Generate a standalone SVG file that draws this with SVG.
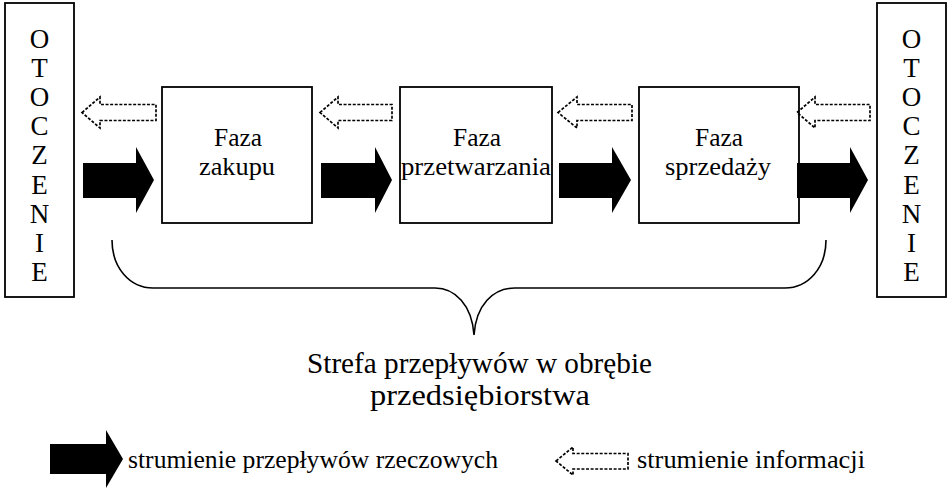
<svg xmlns="http://www.w3.org/2000/svg" width="952" height="493" viewBox="0 0 952 493">
<style>
.box{fill:#fff;stroke:#000;stroke-width:1.8}
text{font-family:'Liberation Serif','Times New Roman',serif;fill:#000}
.solid{fill:#000;stroke:none}
.dash{fill:none;stroke:#000;stroke-width:1.7;stroke-dasharray:3 1.6}
.brace{fill:none;stroke:#000;stroke-width:1.6}
.oto{font-size:27px;text-anchor:middle}
.f{font-size:25px}
.big{font-size:29px}
</style>
<rect width="952" height="493" fill="#fff"/>
<g id="otoczenie-left">
<rect class="box" x="5" y="3" width="69" height="294"/>
<text class="oto" x="39.5" y="48">O</text><text class="oto" x="39.5" y="77">T</text><text class="oto" x="39.5" y="106">O</text><text class="oto" x="39.5" y="135">C</text><text class="oto" x="39.5" y="164">Z</text><text class="oto" x="39.5" y="194">E</text><text class="oto" x="39.5" y="223">N</text><text class="oto" x="39.5" y="252">I</text><text class="oto" x="39.5" y="281">E</text>
</g>
<g id="otoczenie-right">
<rect class="box" x="877" y="3" width="69" height="294"/>
<text class="oto" x="911.5" y="48">O</text><text class="oto" x="911.5" y="77">T</text><text class="oto" x="911.5" y="106">O</text><text class="oto" x="911.5" y="135">C</text><text class="oto" x="911.5" y="164">Z</text><text class="oto" x="911.5" y="194">E</text><text class="oto" x="911.5" y="223">N</text><text class="oto" x="911.5" y="252">I</text><text class="oto" x="911.5" y="281">E</text>
</g>
<g id="faza-zakupu">
<rect class="box" x="162" y="87" width="150" height="136"/>
<text class="f" x="214" y="146" textLength="48" lengthAdjust="spacingAndGlyphs">Faza</text>
<text class="f" x="199" y="175" textLength="76" lengthAdjust="spacingAndGlyphs">zakupu</text>
</g>
<g id="faza-przetwarzania">
<rect class="box" x="400" y="87" width="152" height="136"/>
<text class="f" x="453" y="146" textLength="48" lengthAdjust="spacingAndGlyphs">Faza</text>
<text class="f" x="401" y="175" textLength="150" lengthAdjust="spacingAndGlyphs">przetwarzania</text>
</g>
<g id="faza-sprzedazy">
<rect class="box" x="639" y="87" width="160" height="136"/>
<text class="f" x="695" y="146" textLength="48" lengthAdjust="spacingAndGlyphs">Faza</text>
<text class="f" x="665" y="175" textLength="106" lengthAdjust="spacingAndGlyphs">sprzedaży</text>
</g>
<g id="connectors">
<path class="dash" d="M82,112.5 L100,97 L100,104.5 L156,104.5 L156,120.5 L100,120.5 L100,128 Z"/>
<path class="dash" d="M320,112.5 L338,97 L338,104.5 L392,104.5 L392,120.5 L338,120.5 L338,128 Z"/>
<path class="dash" d="M558,112.5 L577,97 L577,104.5 L632,104.5 L632,120.5 L577,120.5 L577,128 Z"/>
<path class="dash" d="M797,112.5 L815,97 L815,104.5 L870,104.5 L870,120.5 L815,120.5 L815,128 Z"/>
<path class="solid" d="M83,163 L136,163 L136,147 L154,180 L136,213 L136,198 L83,198 Z"/>
<path class="solid" d="M321,163 L375,163 L375,147 L392,180 L375,213 L375,198 L321,198 Z"/>
<path class="solid" d="M559,163 L612,163 L612,147 L631,180 L612,213 L612,198 L559,198 Z"/>
<path class="solid" d="M797,163 L850,163 L850,147 L868,180 L850,213 L850,198 L797,198 Z"/>
</g>
<g id="strefa">
<path class="brace" d="M112,240 C112,268 130,288 153,288 L435,288 C455,288 472,305 474,335 C476,305 493,288 515,288 L785,288 C808,288 826,268 826,240"/>
<text class="big" x="307" y="373" textLength="345" lengthAdjust="spacingAndGlyphs">Strefa przepływów w obrębie</text>
<text class="big" x="370" y="405" textLength="220" lengthAdjust="spacingAndGlyphs">przedsiębiorstwa</text>
</g>
<g id="legend">
<path class="solid" d="M50,444 L106,444 L106,430 L123,459 L106,488 L106,474 L50,474 Z"/>
<text class="f" x="128" y="468" textLength="370" lengthAdjust="spacingAndGlyphs">strumienie przepływów rzeczowych</text>
<path class="dash" d="M556,461 L573,447 L573,453.5 L628,453.5 L628,469 L573,469 L573,475 Z"/>
<text class="f" x="637" y="468" textLength="228" lengthAdjust="spacingAndGlyphs">strumienie informacji</text>
</g>
</svg>
